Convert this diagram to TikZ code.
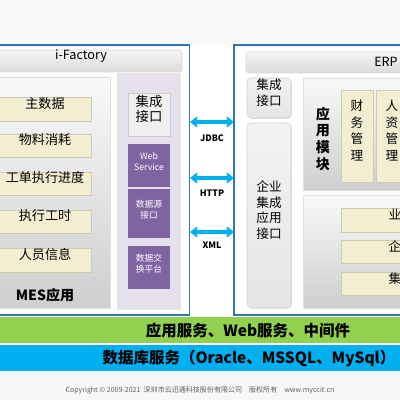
\documentclass[tikz,border=0pt]{standalone}
\usepackage{fontspec}
\setmainfont{Noto Sans CJK SC}
\usetikzlibrary{fit, arrows.meta, shadows}

\definecolor{frameblue}{HTML}{2E75B6}
\definecolor{itembg}{HTML}{F3EDD2}
\definecolor{lavender}{HTML}{E5E0EC}
\definecolor{purp}{HTML}{8064A2}
\definecolor{bandgreen}{HTML}{92D050}
\definecolor{bandblue}{HTML}{00B0F0}

\newcommand{\fs}[2]{\fontsize{#1}{#2}\selectfont}

\begin{document}
\begin{tikzpicture}[x=0.025cm, y=-0.025cm,
    every node/.style={inner sep=0pt, outer sep=0pt},
    frame/.style={draw=frameblue, line width=1.1pt, fill=white},
    head/.style={rounded corners=2pt, top color=gray!8, bottom color=gray!28, draw=gray!30},
    panel/.style={top color=gray!5, bottom color=gray!38, draw=gray!25},
    item/.style={fill=itembg, draw=itembg!85!black, align=center, font=\fs{9.3}{11.8},
      drop shadow={opacity=0.3, shadow xshift=0.6pt, shadow yshift=-0.6pt}},
    tile/.style={fill=purp, text=white, align=center, font=\fs{6.2}{7.8}},
    port/.style={rounded corners=3pt, top color=gray!10, bottom color=gray!20, draw=gray!35,
      align=center, font=\fs{9}{11.3},
      drop shadow={opacity=0.25, shadow xshift=0.6pt, shadow yshift=-0.6pt}},
    link/.style={draw=bandblue, line width=2.8pt,
      {Triangle[length=5pt,width=7.5pt]}-{Triangle[length=5pt,width=7.5pt]}},
    proto/.style={font=\bfseries\fs{6.3}{7}}]
  \useasboundingbox (0,0) rectangle (400,400);
  \fill[white] (0,0) rectangle (400,400);
  \fill[gray!5] (0,0) rectangle (400,44);
  \fill[gray!6] (0,371) rectangle (400,400);

  % MES side
  \node[frame, fit={(-10,45) (189.5,315)}] (mesframe) {};
  \node[head, fit={(-20,50) (182,72)}, font=\fs{9}{11}] (ifac) {i-Factory};
  \node[panel, fit={(-10,77) (110,308)}] (mes) {};
  \node[item, fit={(-1,97) (91,121)}] (master) {主数据};
  \node[item, fit={(-1,134) (91,157)}] (material) {物料消耗};
  \node[item, fit={(-1,172) (91,195)}] (order) {工单执行进度};
  \node[item, fit={(-1,210) (91,233)}] (hours) {执行工时};
  \node[item, fit={(-1,248) (91,272)}] (staff) {人员信息};
  \node[font=\bfseries\fs{10}{12}] (mesapp) at (45,295) {MES应用};

  \node[fill=lavender, draw=gray!20, fit={(117,73) (180,309)}] (intcol) {};
  \node[fill=gray!12, draw=gray!40, fit={(128,93) (170,136)}, align=center,
        font=\fs{9.5}{11.3}] (lint) {集成\\接口};
  \node[tile, fit={(128,144) (170,187)}] (websvc) {Web\\Service};
  \node[tile, fit={(128,189) (170,238)}] (dsrc) {数据源\\接口};
  \node[tile, fit={(128,246) (170,289)}] (dex) {数据交\\换平台};

  % ERP side
  \node[frame, fit={(234,45) (420,315)}] (erpframe) {};
  \node[head, fit={(246,52) (430,73)}] (erphead) {};
  \node[font=\fs{9}{11}] (erp) at (386,62) {ERP};
  \node[port, fit={(247,78) (291,118)}, font=\fs{9}{12}] (rint) {集成\\接口};
  \node[port, fit={(247,123) (291,308)}] (eai) {企业\\集成\\应用\\接口};
  \node[panel, fit={(303,78) (420,190)}] (appmod) {};
  \node[font=\bfseries\fs{10}{12}, align=center] (applbl) at (323,139) {应\\用\\模\\块};
  \node[item, fit={(341,90) (373,182)}, font=\fs{9}{11.8}] (fin) {财\\务\\管\\理};
  \node[item, fit={(376,90) (408,182)}, font=\fs{9}{11.8}] (hr) {人\\资\\管\\理};
  \node[panel, fit={(303,195) (420,308)}] (lower) {};
  \node[item, fit={(341,208) (449,232)}, font=\fs{9}{11}] (rowa) {业};
  \node[item, fit={(341,240) (449,263)}, font=\fs{9}{11}] (rowb) {企};
  \node[item, fit={(341,272) (449,295)}, font=\fs{9}{11}] (rowc) {集};

  % links between the two sides
  \coordinate (ja) at (190,122);  \coordinate (jb) at (234,122);
  \coordinate (ha) at (190,178);  \coordinate (hb) at (234,178);
  \coordinate (xa) at (190,232);  \coordinate (xb) at (234,232);
  \draw[link] (ja) -- (jb);
  \draw[link] (ha) -- (hb);
  \draw[link] (xa) -- (xb);
  \node[proto] (jdbc) at (212,138) {JDBC};
  \node[proto] (http) at (212,193) {HTTP};
  \node[proto] (xml) at (212,245) {XML};

  % bottom bands
  \node[fill=bandgreen, fit={(0,317) (400,343)}] (midware) {};
  \node[font=\bfseries\fs{11}{13}] (midlbl) at (248,331) {应用服务、Web服务、中间件};
  \node[fill=bandblue, fit={(0,345) (400,371)}] (dbband) {};
  \node[font=\bfseries\fs{11}{13}] (dblbl) at (249,359) {数据库服务（Oracle、MSSQL、MySql）};
  \node[text=gray!75!black, font=\fs{5}{6}] (copy) at (200,390)
    {Copyright © 2009-2021\ \ 深圳市云迅通科技股份有限公司\quad 版权所有\quad www.myccit.cn};
\end{tikzpicture}
\end{document}
